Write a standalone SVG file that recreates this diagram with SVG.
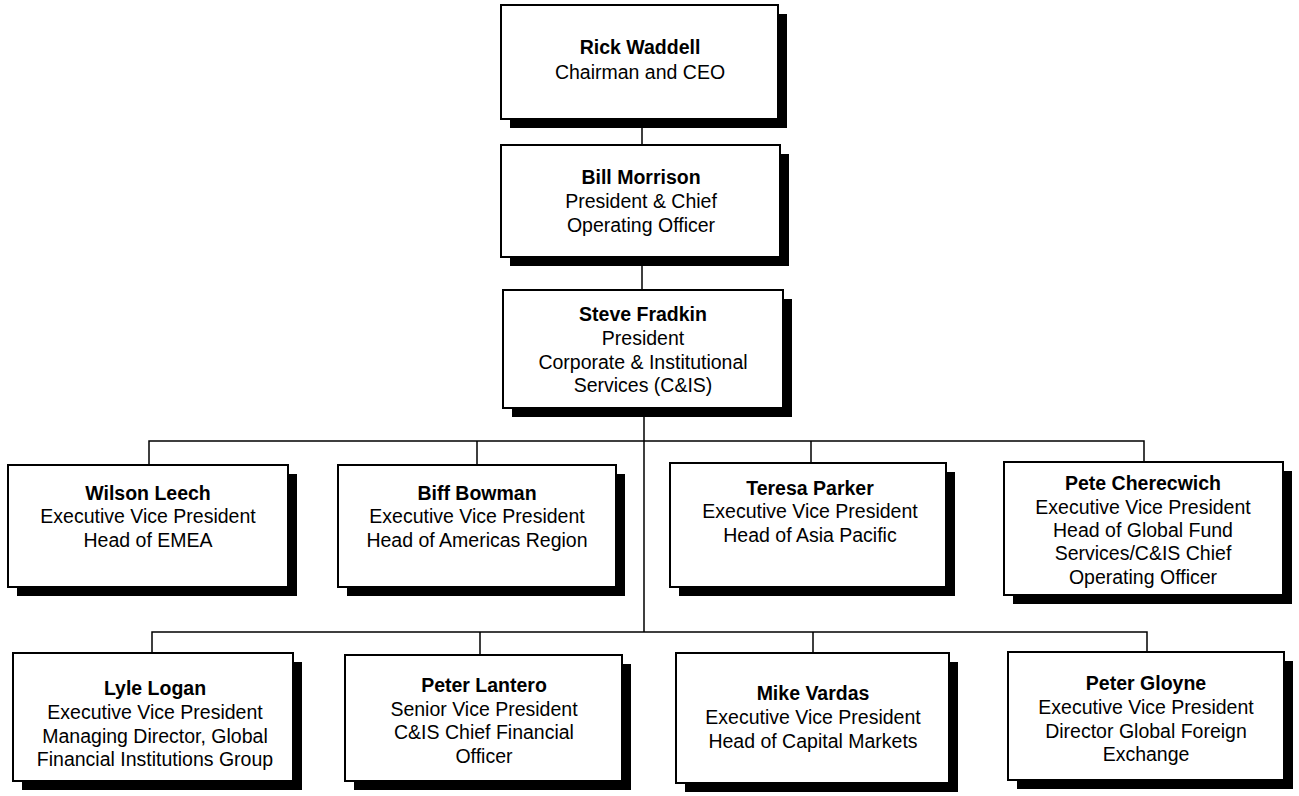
<svg xmlns="http://www.w3.org/2000/svg" width="1299" height="796" viewBox="0 0 1299 796">
<style>
.sh{fill:#000}
.bx{fill:#fff;stroke:#000;stroke-width:2}
.ln{stroke:#000;stroke-width:1.5;fill:none}
text{font-family:"Liberation Sans",Arial,sans-serif;font-size:19.5px;fill:#000;text-anchor:middle}
.b{font-weight:bold}
</style>
<rect width="1299" height="796" fill="#fff"/>
<g id="connectors">
<path class="ln" d="M642 119V145M642 257V290M644 408V632"/>
<path class="ln" d="M149 465V441H1144V462M477 441V465M811 441V463"/>
<path class="ln" d="M152 653V632H1147V652M480 632V655M813 632V653"/>
</g>
<g id="rick">
<rect class="sh" x="510" y="14" width="277" height="114"/>
<rect class="bx" x="501" y="5" width="277" height="114"/>
<text x="640" y="54" class="b">Rick Waddell</text>
<text x="640" y="79">Chairman and CEO</text>
</g>
<g id="bill">
<rect class="sh" x="510" y="154" width="279" height="112"/>
<rect class="bx" x="501" y="145" width="279" height="112"/>
<text x="641" y="184" class="b">Bill Morrison</text>
<text x="641" y="208">President &amp; Chief</text>
<text x="641" y="232">Operating Officer</text>
</g>
<g id="steve">
<rect class="sh" x="512" y="299" width="280" height="118"/>
<rect class="bx" x="503" y="290" width="280" height="118"/>
<text x="643" y="321" class="b">Steve Fradkin</text>
<text x="643" y="345">President</text>
<text x="643" y="369">Corporate &amp; Institutional</text>
<text x="643" y="392">Services (C&amp;IS)</text>
</g>
<g id="wilson">
<rect class="sh" x="17" y="474" width="280" height="122"/>
<rect class="bx" x="8" y="465" width="280" height="122"/>
<text x="148" y="500" class="b">Wilson Leech</text>
<text x="148" y="523">Executive Vice President</text>
<text x="148" y="547">Head of EMEA</text>
</g>
<g id="biff">
<rect class="sh" x="347" y="474" width="278" height="122"/>
<rect class="bx" x="338" y="465" width="278" height="122"/>
<text x="477" y="500" class="b">Biff Bowman</text>
<text x="477" y="523">Executive Vice President</text>
<text x="477" y="547">Head of Americas Region</text>
</g>
<g id="teresa">
<rect class="sh" x="679" y="472" width="276" height="124"/>
<rect class="bx" x="670" y="463" width="276" height="124"/>
<text x="810" y="495" class="b">Teresa Parker</text>
<text x="810" y="518">Executive Vice President</text>
<text x="810" y="542">Head of Asia Pacific</text>
</g>
<g id="pete">
<rect class="sh" x="1013" y="471" width="279" height="133"/>
<rect class="bx" x="1004" y="462" width="279" height="133"/>
<text x="1143" y="490" class="b">Pete Cherecwich</text>
<text x="1143" y="514">Executive Vice President</text>
<text x="1143" y="537">Head of Global Fund</text>
<text x="1143" y="560">Services/C&amp;IS Chief</text>
<text x="1143" y="584">Operating Officer</text>
</g>
<g id="lyle">
<rect class="sh" x="22" y="662" width="280" height="128"/>
<rect class="bx" x="13" y="653" width="280" height="128"/>
<text x="155" y="695" class="b">Lyle Logan</text>
<text x="155" y="719">Executive Vice President</text>
<text x="155" y="743">Managing Director, Global</text>
<text x="155" y="766">Financial Institutions Group</text>
</g>
<g id="lantero">
<rect class="sh" x="354" y="664" width="277" height="126"/>
<rect class="bx" x="345" y="655" width="277" height="126"/>
<text x="484" y="692" class="b">Peter Lantero</text>
<text x="484" y="716">Senior Vice President</text>
<text x="484" y="739">C&amp;IS Chief Financial</text>
<text x="484" y="763">Officer</text>
</g>
<g id="mike">
<rect class="sh" x="685" y="662" width="273" height="130"/>
<rect class="bx" x="676" y="653" width="273" height="130"/>
<text x="813" y="700" class="b">Mike Vardas</text>
<text x="813" y="724">Executive Vice President</text>
<text x="813" y="748">Head of Capital Markets</text>
</g>
<g id="gloyne">
<rect class="sh" x="1017" y="661" width="276" height="128"/>
<rect class="bx" x="1008" y="652" width="276" height="128"/>
<text x="1146" y="690" class="b">Peter Gloyne</text>
<text x="1146" y="714">Executive Vice President</text>
<text x="1146" y="738">Director Global Foreign</text>
<text x="1146" y="761">Exchange</text>
</g>
</svg>
